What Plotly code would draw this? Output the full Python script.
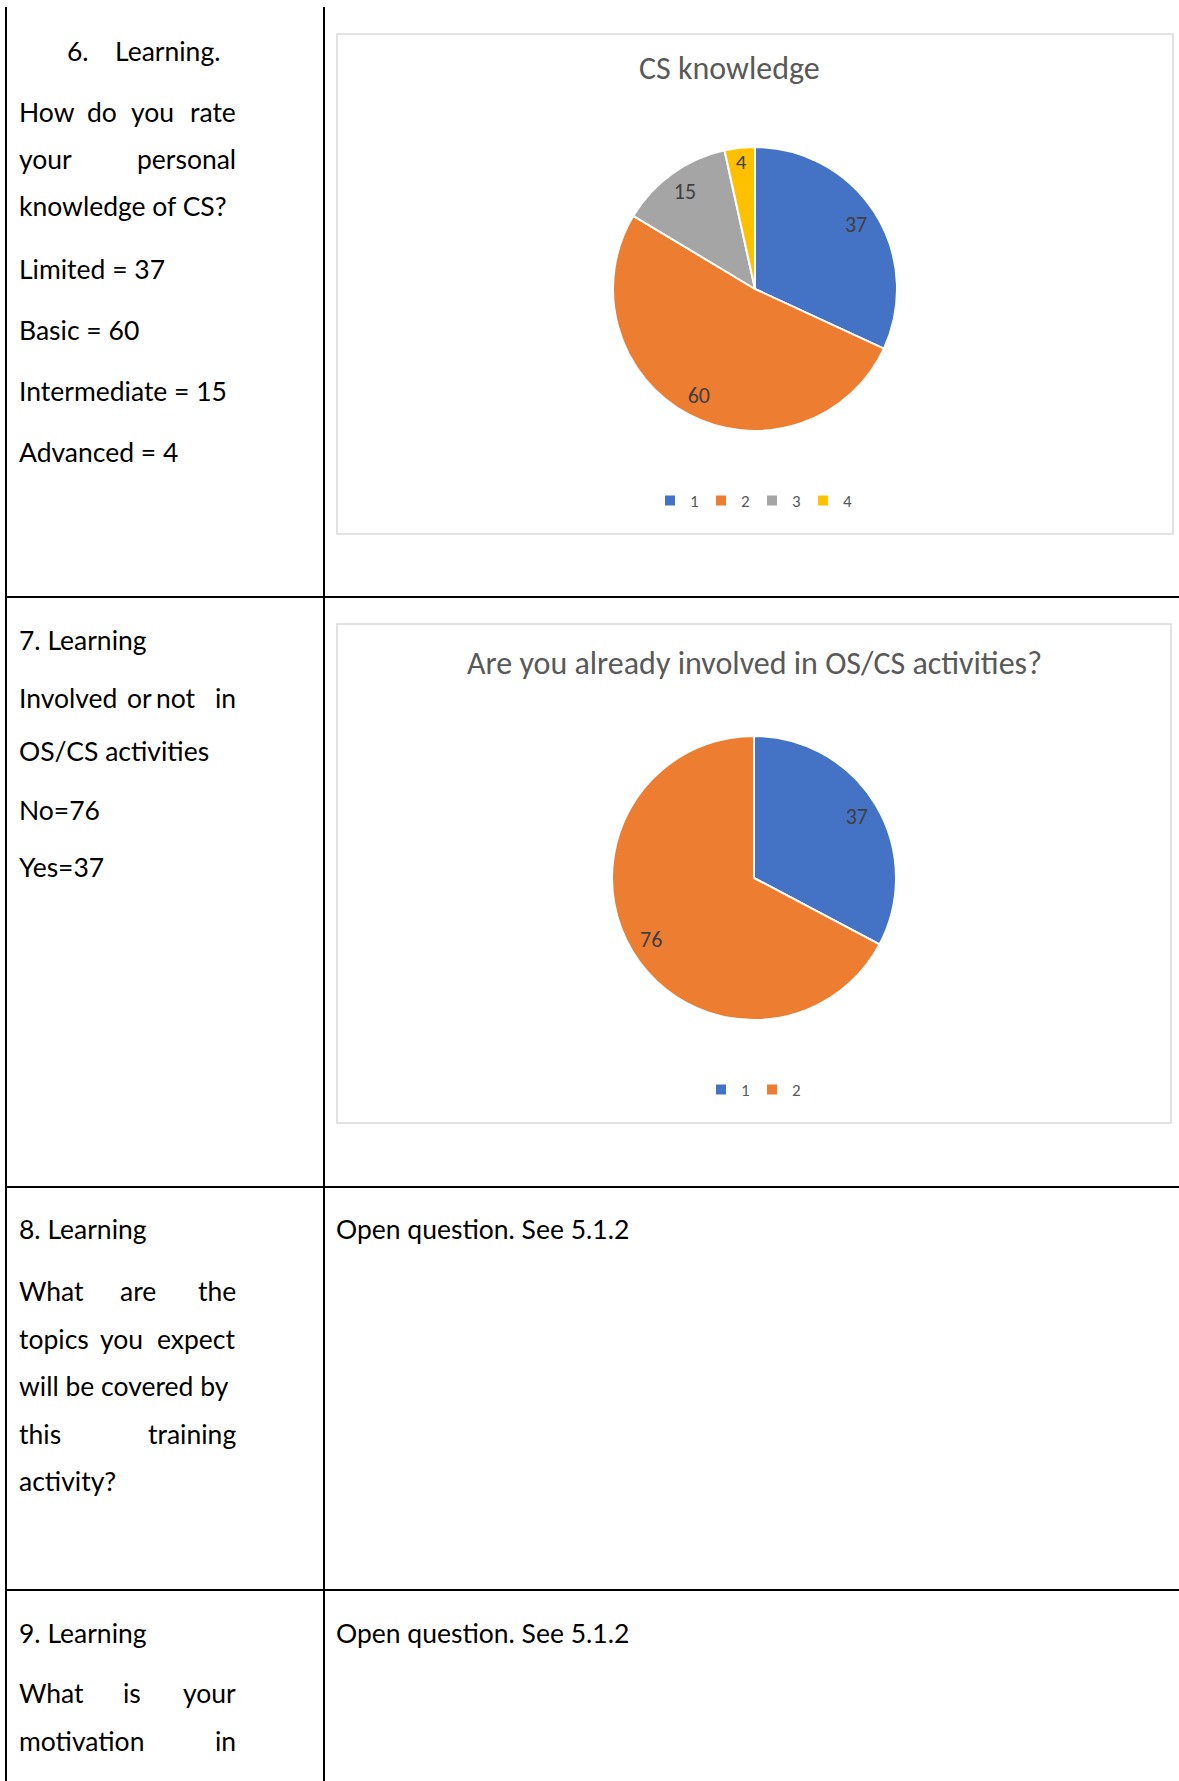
import plotly.graph_objects as go

W, H = 1179, 1781

# ---- data ----
cs_labels = ["1", "2", "3", "4"]
cs_values = [37, 60, 15, 4]
cs_names = ["Limited", "Basic", "Intermediate", "Advanced"]
cs_colors = ["#4472C4", "#ED7D31", "#A5A5A5", "#FFC000"]
cs_title = "CS knowledge"

inv_labels = ["1", "2"]
inv_values = [37, 76]
inv_names = ["Yes", "No"]
inv_colors = ["#4472C4", "#ED7D31"]
inv_title = "Are you already involved in OS/CS activities?"

open_answer = "Open question. See 5.1.2"


def px(x):
    return x / W


def py(y):
    return 1 - y / H


DOC_FONT = "Lato, 'Open Sans', sans-serif"
CHART_FONT = "Carlito, Calibri, Lato, sans-serif"

fig = go.Figure()


def pie_domain(cx, cy, r):
    return dict(x=[px(cx - r), px(cx + r)], y=[py(cy + r), py(cy - r)])


def add_pie(labels, values, colors, dom, legend_id, group):
    fig.add_trace(go.Pie(
        labels=labels, values=values, sort=False, direction="clockwise", rotation=0,
        marker=dict(colors=colors, line=dict(color="white", width=2)),
        textinfo="none", domain=dom, legend=legend_id, legendgroup=group,
        hoverinfo="label+value",
    ))
    # label layer (transparent ring) so values sit near the rim like the original
    fig.add_trace(go.Pie(
        labels=labels, values=values, sort=False, direction="clockwise", rotation=0,
        hole=0.69, marker=dict(colors=["rgba(0,0,0,0)"] * len(values), line=dict(width=0)),
        texttemplate="%{value}", textposition="inside", insidetextorientation="horizontal",
        insidetextfont=dict(family=CHART_FONT, size=22, color="#404040"),
        domain=dom, showlegend=False, hoverinfo="skip", legend=legend_id,
        legendgroup=group + "_lbl",
    ))


add_pie(cs_labels, cs_values, cs_colors, pie_domain(755, 289, 142), "legend", "cs")
add_pie(inv_labels, inv_values, inv_colors, pie_domain(754, 878, 142), "legend2", "inv")

shapes = []


def line(x0, y0, x1, y1, color="black", width=2):
    shapes.append(dict(type="line", xref="paper", yref="paper",
                       x0=px(x0), y0=py(y0), x1=px(x1), y1=py(y1),
                       line=dict(color=color, width=width)))


# table grid
line(6, 7, 6, H)
line(324, 7, 324, H)
for yy in [597, 1187, 1590]:
    line(6, yy, W, yy)

# chart area borders
for (x0, y0, x1, y1) in [(337, 34, 1173, 534), (337, 624, 1171, 1123)]:
    shapes.append(dict(type="rect", xref="paper", yref="paper",
                       x0=px(x0), y0=py(y1), x1=px(x1), y1=py(y0),
                       line=dict(color="#D9D9D9", width=1.5), fillcolor="rgba(0,0,0,0)"))

annotations = []


def txt(t, x, y, anchor="left", size=26.5, color="black", family=DOC_FONT):
    annotations.append(dict(text=t, x=px(x), y=py(y), xref="paper", yref="paper",
                            xanchor=anchor, yanchor="middle", showarrow=False,
                            font=dict(family=family, size=size, color=color)))


L = 17   # left edge of column text
R = 238  # right edge of justified text
# row 6
txt("6.", 65, 51)
txt("Learning.", 113, 51)
txt("How", L, 112); txt("do", 85, 112); txt("you", 129, 112); txt("rate", R, 112, "right")
txt("your", L, 159); txt("personal", R, 159, "right")
txt("knowledge of CS?", L, 206)
for name, val, yy in zip(cs_names, cs_values, [269, 330, 391, 452]):
    txt(f"{name} = {val}", L, yy)

# row 7
txt("7. Learning", L, 640)
txt("Involved", L, 698); txt("or", 125, 698); txt("not", 154, 698); txt("in", R, 698, "right")
txt("OS/CS activities", L, 751)
txt(f"{inv_names[1]}={inv_values[1]}", L, 810)
txt(f"{inv_names[0]}={inv_values[0]}", L, 867)

# row 8
txt("8. Learning", L, 1229)
txt("What", L, 1291); txt("are", 118, 1291); txt("the", R, 1291, "right")
txt("topics", L, 1339); txt("you", 98, 1339); txt("expect", R, 1339, "right")
txt("will be covered by", L, 1386)
txt("this", L, 1434); txt("training", R, 1434, "right")
txt("activity?", L, 1481)
txt(open_answer, 334, 1229)

# row 9
txt("9. Learning", L, 1633)
txt("What", L, 1693); txt("is", 121, 1693); txt("your", R, 1693, "right")
txt("motivation", L, 1741); txt("in", R, 1741, "right")
txt(open_answer, 334, 1633)

# chart titles
txt(cs_title, 729, 69, "center", size=32, color="#595959", family=CHART_FONT)
txt(inv_title, 754, 663, "center", size=32, color="#595959", family=CHART_FONT)

legend_common = dict(orientation="h", xanchor="center", yanchor="middle",
                     traceorder="normal", entrywidth=6, entrywidthmode="pixels",
                     font=dict(family=CHART_FONT, size=17, color="#595959"),
                     bgcolor="rgba(0,0,0,0)", itemclick=False, itemdoubleclick=False)

fig.update_layout(
    width=W, height=H, autosize=False,
    margin=dict(l=0, r=0, t=0, b=0),
    paper_bgcolor="white", plot_bgcolor="white",
    shapes=shapes, annotations=annotations,
    legend=dict(x=px(752), y=py(501), **legend_common),
    legend2=dict(x=px(752), y=py(1090), **legend_common),
)

fig.write_html("out.html")
